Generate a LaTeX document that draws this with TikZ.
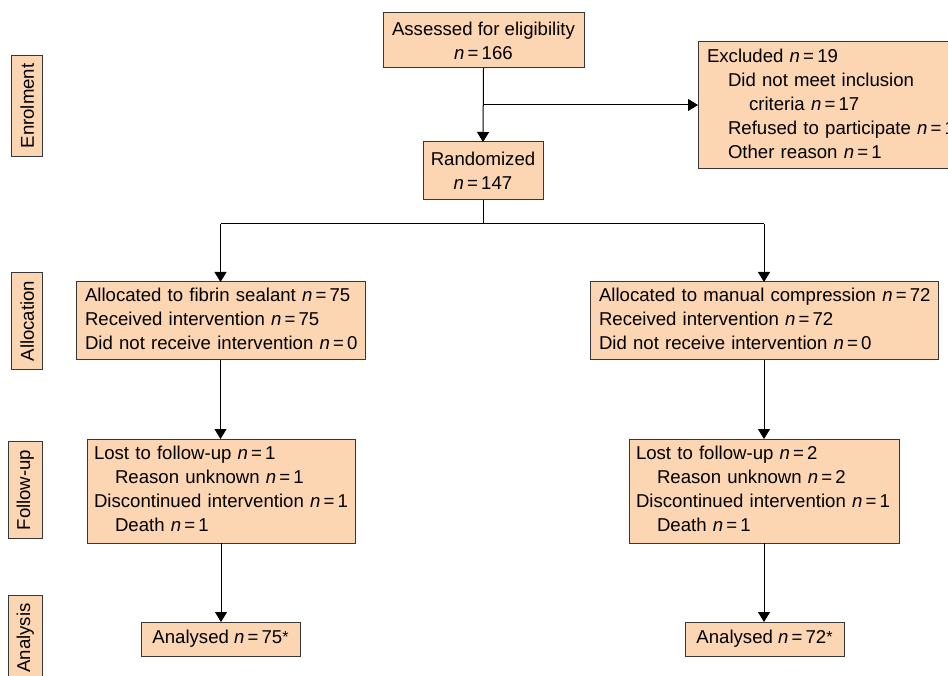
\documentclass[tikz,border=0pt]{standalone}
\usepackage{fontspec}
\setmainfont{Liberation Sans}
\usetikzlibrary{arrows.meta}
\definecolor{peach}{RGB}{252,214,178}
\definecolor{edge}{RGB}{55,55,55}
\newcommand{\nval}[1]{\mbox{\textit{n}\kern0.17em=\kern0.17em#1}}
\newcommand{\ind}{\hspace*{21pt}}
\newcommand{\astk}{\raisebox{0.1ex}{\fontsize{16}{16}\selectfont *}}
\newcommand{\lines}[1]{\begin{tabular}{@{}l@{}}#1\end{tabular}}
\begin{document}
\begin{tikzpicture}[x=1pt,y=-1pt,
  font=\fontsize{18.6}{24}\selectfont,
  box/.style={draw=edge,line width=1pt,fill=peach,inner sep=0pt,outer sep=0pt},
  lbox/.style={box,align=left},
  cbox/.style={box,align=center},
  phase/.style={draw=edge,line width=1pt,fill=peach,rotate=90,anchor=south,inner xsep=8pt,inner ysep=8.5pt},
  arr/.style={line width=1pt,-{Triangle[width=12pt,length=10pt]}},
  ln/.style={line width=1pt}]
\useasboundingbox (0,0) rectangle (948,676);
\clip (0,0) rectangle (948,676);

% phase labels
\node[phase] (enr) at (43,106) {Enrolment};
\node[phase] (all) at (43,321) {Allocation};
\node[phase] (fol) at (43,490) {Follow-up};
\node[phase] (ana) at (43,638) {Analysis};

% main boxes
\node[cbox,minimum width=201pt,minimum height=55pt] (assess) at (483.5,40.5)
  {Assessed for eligibility\\\nval{166}};
\node[cbox,minimum width=120pt,minimum height=58pt] (rand) at (483,171)
  {Randomized\\\nval{147}};
\node[lbox,text width=259pt,inner xsep=9pt,minimum height=127pt] (excl) at (836.5,105.5)
  {\lines{Excluded \nval{19}\\
   \ind Did not meet inclusion\\
   \ind\ind criteria \nval{17}\\
   \ind Refused to participate \nval{1}\\
   \ind Other reason \nval{1}}};

\node[lbox,text width=271pt,inner xsep=9pt,minimum height=78pt] (allocL) at (220.5,321)
  {\lines{Allocated to fibrin sealant \nval{75}\\
   Received intervention \nval{75}\\
   Did not receive intervention \nval{0}}};
\node[lbox,text width=330pt,inner xsep=9pt,minimum height=78pt] (allocR) at (764,321)
  {\lines{Allocated to manual compression \nval{72}\\
   Received intervention \nval{72}\\
   Did not receive intervention \nval{0}}};

\node[lbox,text width=254pt,inner xsep=7pt,minimum height=104pt] (fuL) at (221,491)
  {\lines{Lost to follow-up \nval{1}\\
   \ind Reason unknown \nval{1}\\
   Discontinued intervention \nval{1}\\
   \ind Death \nval{1}}};
\node[lbox,text width=256pt,inner xsep=7pt,minimum height=104pt] (fuR) at (764,491)
  {\lines{Lost to follow-up \nval{2}\\
   \ind Reason unknown \nval{2}\\
   Discontinued intervention \nval{1}\\
   \ind Death \nval{1}}};

\node[cbox,minimum width=159pt,minimum height=34pt] (anL) at (220.5,639)
  {Analysed \nval{75}\astk};
\node[cbox,minimum width=159pt,minimum height=34pt] (anR) at (764.5,639)
  {Analysed \nval{72}\astk};

% connectors
\coordinate (j1) at (483,105);
\coordinate (j2) at (483,224);
\draw[arr] (assess.south) -- (rand.north);
\draw[arr] (j1) -- (excl.west |- j1);
\draw[ln] (rand.south) -- (j2);
\draw[ln] (allocL.north |- j2) -- (allocR.north |- j2);
\draw[arr] (allocL.north |- j2) -- (allocL.north);
\draw[arr] (allocR.north |- j2) -- (allocR.north);
\draw[arr] (allocL.south) -- (allocL.south |- fuL.north);
\draw[arr] (allocR.south) -- (allocR.south |- fuR.north);
\draw[arr] (fuL.south) -- (fuL.south |- anL.north);
\draw[arr] (fuR.south) -- (fuR.south |- anR.north);
\end{tikzpicture}
\end{document}
